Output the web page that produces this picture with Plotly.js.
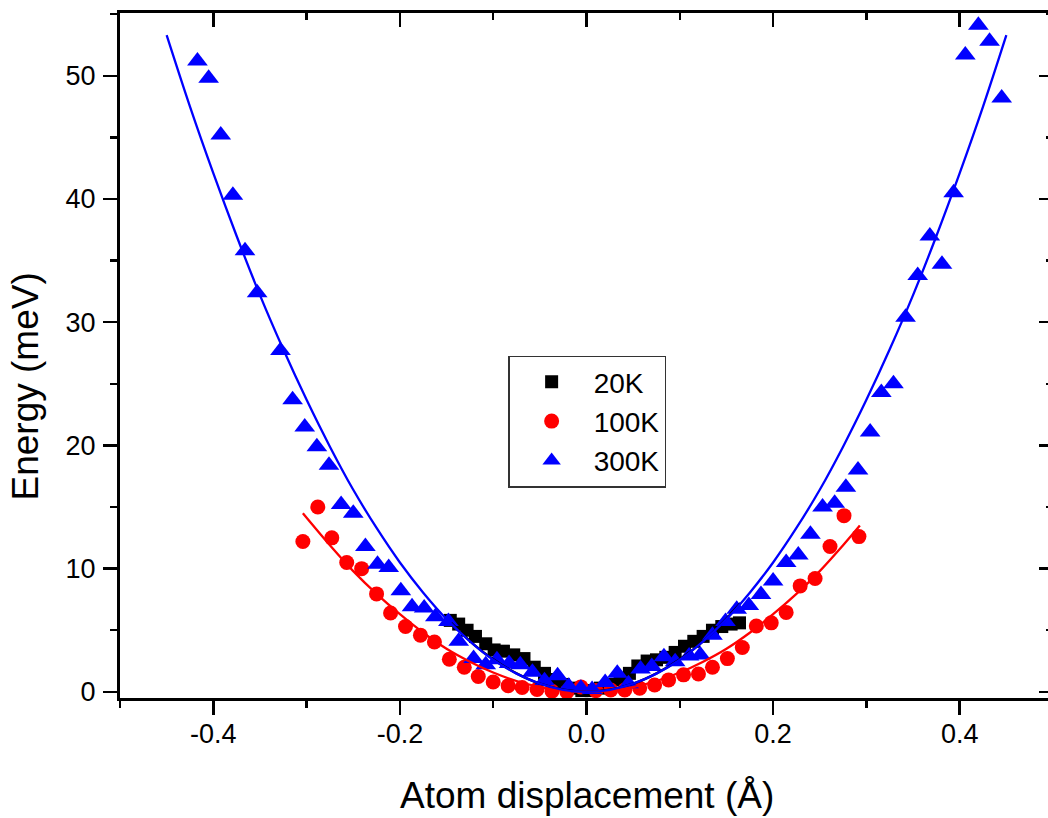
<!DOCTYPE html>
<html><head><meta charset="utf-8">
<script src="https://cdn.plot.ly/plotly-3.0.1.min.js"></script>
<style>html,body{margin:0;padding:0;overflow:hidden;background:#fff}#chart{width:1060px;height:818px}</style>
</head><body><div id="chart"></div>
<script>
// ---- data ----
const seriesNames = ['20K', '100K', '300K'];

const x20K = [-0.146,-0.137,-0.128,-0.119,-0.108,-0.099,-0.089,-0.078,-0.067,-0.056,-0.045,-0.035,-0.025,-0.015,-0.005,
  0.005,0.015,0.026,0.036,0.046,0.055,0.065,0.075,0.085,0.095,0.105,0.115,0.125,0.135,0.145,0.155,0.164];
const y20K = [5.8,5.5,5.0,4.5,3.9,3.4,3.3,3.0,2.7,2.0,1.5,1.0,0.6,0.3,0.1,
  0.1,0.3,0.6,1.0,1.5,2.1,2.5,2.6,2.8,3.2,3.7,4.1,4.5,5.0,5.3,5.5,5.6];

const x100K = [-0.304,-0.288,-0.273,-0.257,-0.241,-0.225,-0.210,-0.194,-0.178,-0.163,-0.147,-0.131,-0.116,-0.100,-0.084,
  -0.069,-0.053,-0.037,-0.021,-0.006,0.010,0.026,0.041,0.057,0.073,0.088,0.104,0.120,0.135,0.151,
  0.167,0.182,0.198,0.214,0.229,0.245,0.261,0.276,0.292];
const y100K = [12.2,15.0,12.5,10.5,10.0,7.95,6.4,5.3,4.6,4.05,2.65,2.0,1.25,0.8,0.5,
  0.35,0.2,0.05,0.0,0.4,0.1,0.15,0.15,0.3,0.55,0.97,1.38,1.45,2.0,2.7,
  3.6,5.35,5.6,6.45,8.6,9.2,11.8,14.3,12.6];

const x300K = [-0.417,-0.405,-0.392,-0.379,-0.366,-0.353,-0.328,-0.315,-0.302,-0.289,-0.276,-0.263,-0.250,-0.237,-0.224,
  -0.212,-0.199,-0.187,-0.174,-0.162,-0.148,-0.137,-0.121,-0.108,-0.096,-0.083,-0.071,-0.058,-0.045,-0.031,
  -0.019,-0.006,0.006,0.020,0.033,0.045,0.058,0.070,0.083,0.095,0.110,0.122,0.135,0.149,0.161,
  0.174,0.187,0.200,0.214,0.227,0.240,0.253,0.266,0.278,0.291,0.304,0.316,0.329,0.342,0.355,
  0.368,0.381,0.3935,0.406,0.420,0.432,0.445];
const y300K = [51.2,49.8,45.2,40.3,35.8,32.4,27.7,23.7,21.5,19.9,18.4,15.2,14.5,11.8,10.35,
  10.1,8.2,6.9,6.8,6.1,5.7,4.1,2.7,2.2,2.6,2.3,2.2,1.6,0.9,1.3,
  0.45,0.3,0.2,0.75,1.5,0.65,1.85,2.05,2.85,2.45,2.9,3.0,4.6,5.7,6.7,
  7.0,7.9,9.0,10.5,11.1,12.8,15.0,15.3,16.6,18.0,21.1,24.3,25.0,30.4,33.8,
  37.0,34.7,40.5,51.7,54.1,52.8,48.2];

// fitted curves, values
const xFit20K = [-0.145,-0.12,-0.10,-0.075,-0.05,-0.025,0.0,0.025,0.05,0.075,0.10,0.125,0.15,0.165];
const yFit20K = [5.6,3.8,2.65,1.5,0.66,0.17,0.0,0.17,0.66,1.5,2.65,4.1,5.95,7.2];

const xFit100K = [-0.304,-0.275,-0.25,-0.225,-0.20,-0.175,-0.15,-0.125,-0.10,-0.075,-0.05,-0.025,0.0,
  0.025,0.05,0.075,0.10,0.125,0.15,0.175,0.20,0.225,0.25,0.275,0.293];
const yFit100K = [14.5,11.9,9.8,7.95,6.3,4.8,3.5,2.45,1.57,0.88,0.39,0.1,0.0,
  0.1,0.39,0.88,1.57,2.45,3.5,4.8,6.3,7.95,9.8,11.9,13.5];

const xFit300K = [-0.45,-0.425,-0.40,-0.375,-0.35,-0.325,-0.30,-0.275,-0.25,-0.225,-0.20,-0.175,-0.15,-0.125,-0.10,-0.075,-0.05,-0.025,0.0,
  0.025,0.05,0.075,0.10,0.125,0.15,0.175,0.20,0.225,0.25,0.275,0.30,0.325,0.35,0.375,0.40,0.425,0.45];
const yFit300K = [53.3,47.5,42.1,37.0,32.2,27.8,23.7,19.9,16.4,13.3,10.5,8.05,5.9,4.1,2.6,1.48,0.66,0.16,0.0,
  0.16,0.66,1.48,2.6,4.1,5.9,8.05,10.5,13.3,16.4,19.9,23.7,27.8,32.2,37.0,42.1,47.5,53.3];

const xTickVals = [-0.4,-0.2,0.0,0.2,0.4];
const xTickText = ['-0.4','-0.2','0.0','0.2','0.4'];
const yTickVals = [0,10,20,30,40,50];
const yTickText = ['0','10','20','30','40','50'];

// ---- chart ----
const FONT = 'Liberation Sans, Arial, sans-serif';
const mk = (sym, size, color) => ({symbol: sym, size: size, color: color, line: {width: 0}});

const traces = [
  {x: x20K, y: y20K, name: seriesNames[0], type: 'scatter', mode: 'markers', marker: mk('square', 13, '#000000')},
  {x: x100K, y: y100K, name: seriesNames[1], type: 'scatter', mode: 'markers', marker: mk('circle', 15, '#ff0000')},
  {x: x300K, y: y300K, name: seriesNames[2], type: 'scatter', mode: 'markers', marker: mk('triangle-up', 18, '#0000ff')},
  {x: xFit20K, y: yFit20K, type: 'scatter', mode: 'lines', line: {color: '#000000', width: 2.3, shape: 'spline'}, showlegend: false, hoverinfo: 'skip'},
  {x: xFit100K, y: yFit100K, type: 'scatter', mode: 'lines', line: {color: '#ff0000', width: 2.3, shape: 'spline'}, showlegend: false, hoverinfo: 'skip'},
  {x: xFit300K, y: yFit300K, type: 'scatter', mode: 'lines', line: {color: '#0000ff', width: 2.3, shape: 'spline'}, showlegend: false, hoverinfo: 'skip'},
  {x: [], y: [], xaxis: 'x2', yaxis: 'y2', type: 'scatter', mode: 'markers', showlegend: false, hoverinfo: 'skip'}
];

const XR = [-0.5, 0.5], YR = [-0.5, 55.1];
const tickFont = {family: FONT, size: 27, color: '#000'};

const layout = {
  width: 1060, height: 818,
  margin: {l: 120, r: 7, t: 13, b: 120, pad: 0},
  paper_bgcolor: '#fff', plot_bgcolor: '#fff',
  showlegend: true,
  xaxis: {range: XR, showgrid: false, zeroline: false, showline: true, linecolor: '#000', linewidth: 3,
    tickmode: 'array', tickvals: xTickVals, ticktext: xTickText, ticks: 'outside', ticklen: 14, tickwidth: 2.5, tickcolor: '#000',
    minor: {tickmode: 'linear', tick0: 0, dtick: 0.1, ticks: 'outside', ticklen: 7, tickwidth: 2.5, tickcolor: '#000', showgrid: false},
    tickfont: tickFont, ticklabelstandoff: -4, fixedrange: true},
  yaxis: {range: YR, showgrid: false, zeroline: false, showline: true, linecolor: '#000', linewidth: 3,
    tickmode: 'array', tickvals: yTickVals, ticktext: yTickText, ticks: 'outside', ticklen: 14, tickwidth: 2.5, tickcolor: '#000',
    minor: {tickmode: 'linear', tick0: 0, dtick: 5, ticks: 'outside', ticklen: 7, tickwidth: 2.5, tickcolor: '#000', showgrid: false},
    tickfont: tickFont, ticklabelstandoff: 2, fixedrange: true},
  xaxis2: {range: XR, overlaying: 'x', side: 'top', anchor: 'y2', showgrid: false, zeroline: false, showline: true, linecolor: '#000', linewidth: 3,
    tickmode: 'array', tickvals: xTickVals, ticks: 'inside', ticklen: 14, tickwidth: 2.5, tickcolor: '#000', showticklabels: false,
    minor: {tickmode: 'linear', tick0: 0, dtick: 0.1, ticks: 'inside', ticklen: 7, tickwidth: 2.5, tickcolor: '#000', showgrid: false}},
  yaxis2: {range: YR, overlaying: 'y', side: 'right', anchor: 'x2', showgrid: false, zeroline: false, showline: false,
    tickmode: 'array', tickvals: yTickVals, ticks: 'inside', ticklen: 14, tickwidth: 2.5, tickcolor: '#000', showticklabels: false,
    minor: {tickmode: 'linear', tick0: 0, dtick: 5, ticks: 'inside', ticklen: 7, tickwidth: 2.5, tickcolor: '#000', showgrid: false}},
  legend: {x: 0.416, y: 0.5, xanchor: 'left', yanchor: 'top', bgcolor: '#fff', bordercolor: '#333', borderwidth: 1.5,
    font: {family: FONT, size: 28, color: '#000'}, itemwidth: 74, tracegroupgap: 0},
  annotations: [
    {text: 'Atom displacement (Å)', xref: 'paper', yref: 'paper', x: 0.5005, y: -0.143, xanchor: 'center', yanchor: 'middle',
      showarrow: false, font: {family: FONT, size: 37, color: '#000'}},
    {text: 'Energy (meV)', xref: 'paper', yref: 'paper', x: -0.1018, y: 0.4548, xanchor: 'center', yanchor: 'middle', textangle: -90,
      showarrow: false, font: {family: FONT, size: 37, color: '#000'}}
  ]
};

Plotly.newPlot('chart', traces, layout, {displayModeBar: false, staticPlot: true});
</script>
</body></html>
